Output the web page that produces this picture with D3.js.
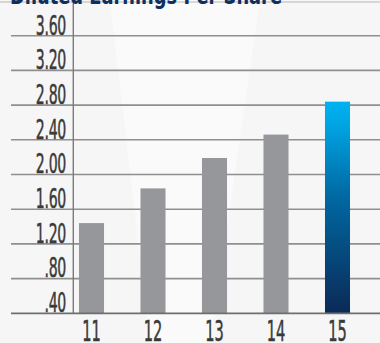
<!DOCTYPE html>
<html>
<head>
<meta charset="utf-8">
<script src="https://cdn.jsdelivr.net/npm/d3@7"></script>
<style>
  html, body { margin: 0; padding: 0; background: #f7f7f7; }
  svg { display: block; }
</style>
</head>
<body>
<div id="chart"></div>
<script>
// Diluted EPS by fiscal year
const years = ["11", "12", "13", "14", "15"];
const eps = [1.44, 1.84, 2.19, 2.46, 2.84];
const tickValues = [0.40, 0.80, 1.20, 1.60, 2.00, 2.40, 2.80, 3.20, 3.60];
const tickLabels = [".40", ".80", "1.20", "1.60", "2.00", "2.40", "2.80", "3.20", "3.60"];
const title = "Diluted Earnings Per Share";

const W = 380, H = 343;
const FONT = "'DejaVu Sans Condensed', 'Liberation Sans Narrow', 'Liberation Sans', sans-serif";

const svg = d3.select("#chart").append("svg")
  .attr("width", W).attr("height", H);

// soft background with a faint lighter sweep
svg.append("rect").attr("width", W).attr("height", H).attr("fill", "#f6f6f6");
svg.append("path")
  .attr("d", "M110,0 L260,0 L210,343 L150,343 Z")
  .attr("fill", "#fafafa");

const y = d3.scaleLinear().domain([0.40, 3.60]).range([313.3, 35.7]);
const x = d3.scaleBand().domain(years)
  .range([60.75, 368.25]).paddingInner(0.593).paddingOuter(0.2965);

const defs = svg.append("defs");
const grad = defs.append("linearGradient")
  .attr("id", "hl").attr("x1", 0).attr("x2", 0).attr("y1", 0).attr("y2", 1);
grad.append("stop").attr("offset", "0%").attr("stop-color", "#00b2f2");
grad.append("stop").attr("offset", "10%").attr("stop-color", "#00a6e4");
grad.append("stop").attr("offset", "45%").attr("stop-color", "#0068a2");
grad.append("stop").attr("offset", "100%").attr("stop-color", "#0b2a56");

// gridlines
svg.append("g").selectAll("line")
  .data(tickValues.slice(1))
  .join("line")
  .attr("x1", 11).attr("x2", W)
  .attr("y1", d => y(d)).attr("y2", d => y(d))
  .attr("stroke", "#8f8f8f").attr("stroke-width", 1.6);

// vertical axis line and top rule
svg.append("line")
  .attr("x1", 73.3).attr("x2", 73.3).attr("y1", 0).attr("y2", y(0.40))
  .attr("stroke", "#7a7a7a").attr("stroke-width", 1.4);
svg.append("line")
  .attr("x1", 0).attr("x2", W).attr("y1", 2).attr("y2", 2)
  .attr("stroke", "#b5b5b5").attr("stroke-width", 1);

// bars
svg.append("g").selectAll("rect")
  .data(years.map((k, i) => ({ k, v: eps[i], i })))
  .join("rect")
  .attr("x", d => x(d.k))
  .attr("width", x.bandwidth())
  .attr("y", d => y(d.v))
  .attr("height", d => y(0.40) - y(d.v))
  .attr("fill", d => d.i === years.length - 1 ? "url(#hl)" : "#96979b");

// baseline
svg.append("line")
  .attr("x1", 11).attr("x2", W).attr("y1", y(0.40)).attr("y2", y(0.40))
  .attr("stroke", "#6e6e6e").attr("stroke-width", 1.8);

// y tick labels, sitting on their gridlines
const yl = svg.append("g").selectAll("g")
  .data(tickValues.map((v, i) => ({ v, t: tickLabels[i] })))
  .join("g")
  .attr("transform", d => `translate(66,${y(d.v) - 1.2}) scale(0.58,1)`);
yl.append("text")
  .attr("text-anchor", "end")
  .attr("font-family", FONT)
  .attr("font-size", 27)
  .attr("letter-spacing", -0.5)
  .attr("fill", "#3a3a3a")
  .attr("stroke", "#3a3a3a")
  .attr("stroke-width", 0.5)
  .text(d => d.t);

// x labels
const xl = svg.append("g").selectAll("g")
  .data(years)
  .join("g")
  .attr("transform", d => `translate(${x(d) + x.bandwidth() / 2},341) scale(0.58,1)`);
xl.append("text")
  .attr("text-anchor", "middle")
  .attr("font-family", FONT)
  .attr("font-size", 28)
  .attr("fill", "#3a3a3a")
  .attr("stroke", "#3a3a3a")
  .attr("stroke-width", 0.5)
  .text(d => d);

// title, mostly cropped at the top edge
svg.append("text")
  .attr("x", 10).attr("y", 4)
  .attr("font-family", FONT)
  .attr("font-weight", "bold")
  .attr("font-size", 24)
  .attr("textLength", 272)
  .attr("lengthAdjust", "spacingAndGlyphs")
  .attr("fill", "#0f2f5f")
  .text(title);
</script>
</body>
</html>
